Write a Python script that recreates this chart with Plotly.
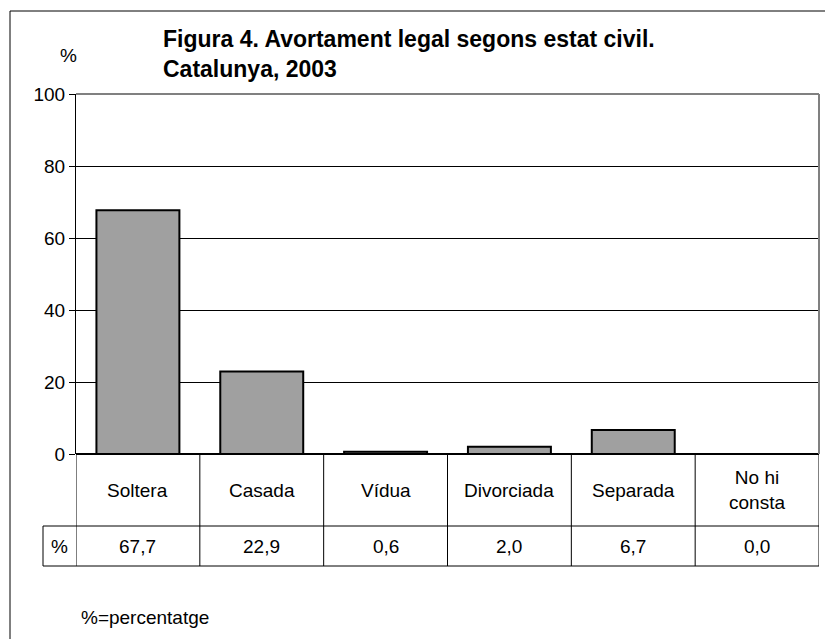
import plotly.graph_objects as go

categories = ["Soltera", "Casada", "Vídua", "Divorciada", "Separada", "No hi<br>consta"]
values = [67.7, 22.9, 0.6, 2.0, 6.7, 0.0]
value_labels = ["67,7", "22,9", "0,6", "2,0", "6,7", "0,0"]
y_ticks = [0, 20, 40, 60, 80, 100]

FONT = "Liberation Sans, Arial, sans-serif"
OFF = 8  # page body margin
W, H = 833 - OFF, 639 - OFF
# plot-area edges in page pixels
PL, PR, PT, PB = 76, 819, 94, 454
L, R, T, B = PL - OFF, W - (PR - OFF), PT - OFF, H - (PB - OFF)
pw, ph = W - L - R, H - T - B

def px_x(p):
    return (p - PL) / pw

def px_y(p):
    return (PB - p) / ph

x_idx = list(range(len(categories)))

fig = go.Figure()
fig.add_trace(go.Bar(
    x=x_idx, y=values,
    marker=dict(color="#a0a0a0", line=dict(color="black", width=2)),
    width=0.67,
    hoverinfo="skip",
))

BLACK = dict(color="black", width=1)
shapes = []
# outer frame: left and top edges only (right/bottom fall outside the picture)
shapes.append(dict(type="line", xref="paper", yref="paper",
                   x0=px_x(10), x1=px_x(10), y0=px_y(660), y1=px_y(11), line=BLACK))
shapes.append(dict(type="line", xref="paper", yref="paper",
                   x0=px_x(10), x1=px_x(840), y0=px_y(11), y1=px_y(11), line=BLACK))
# plot-area border (gray) top and right
shapes.append(dict(type="line", xref="paper", yref="paper", x0=0, x1=1, y0=1, y1=1,
                   line=dict(color="#808080", width=2), layer="above"))
shapes.append(dict(type="line", xref="paper", yref="paper", x0=1, x1=1, y0=0, y1=1,
                   line=dict(color="#808080", width=2), layer="above"))
# data table grid
for yy in [526, 566]:
    shapes.append(dict(type="line", xref="paper", yref="paper",
                       x0=px_x(43), x1=1, y0=px_y(yy), y1=px_y(yy), line=BLACK))
for i in range(len(categories) + 1):
    shapes.append(dict(type="line", xref="x", yref="paper",
                       x0=i - 0.5, x1=i - 0.5, y0=px_y(566), y1=0, line=BLACK))
shapes.append(dict(type="line", xref="paper", yref="paper",
                   x0=px_x(43), x1=px_x(43), y0=px_y(566), y1=px_y(526), line=BLACK))

FS = 19
annotations = []
for i, (c, v) in enumerate(zip(categories, value_labels)):
    annotations.append(dict(x=i, xref="x", y=px_y(490), yref="paper", text=c,
                            showarrow=False, font=dict(size=FS, color="black", family=FONT),
                            xanchor="center", yanchor="middle"))
    annotations.append(dict(x=i, xref="x", y=px_y(546), yref="paper", text=v,
                            showarrow=False, font=dict(size=FS, color="black", family=FONT),
                            xanchor="center", yanchor="middle"))
annotations.append(dict(x=px_x(59.5), xref="paper", y=px_y(546), yref="paper", text="%",
                        showarrow=False, font=dict(size=FS, color="black", family=FONT),
                        xanchor="center", yanchor="middle"))
annotations.append(dict(x=px_x(79), xref="paper", y=px_y(617), yref="paper", text="%=percentatge",
                        showarrow=False, font=dict(size=FS, color="black", family=FONT),
                        xanchor="left", yanchor="middle"))
annotations.append(dict(x=px_x(68), xref="paper", y=px_y(56), yref="paper", text="%",
                        showarrow=False, font=dict(size=FS, color="black", family=FONT),
                        xanchor="center", yanchor="middle"))
annotations.append(dict(x=px_x(161), xref="paper", y=px_y(54), yref="paper",
                        text="<b>Figura 4. Avortament legal segons estat civil.<br>Catalunya, 2003</b>",
                        showarrow=False, align="left",
                        font=dict(size=23, color="black", family=FONT),
                        xanchor="left", yanchor="middle"))

fig.update_layout(
    width=W, height=H,
    margin=dict(l=L, r=R, t=T, b=B, pad=0),
    paper_bgcolor="white", plot_bgcolor="white",
    showlegend=False,
    font=dict(family=FONT, size=FS, color="black"),
    xaxis=dict(range=[-0.5, len(categories) - 0.5], showticklabels=False, showgrid=False,
               zeroline=False, showline=False, ticks="", fixedrange=True),
    yaxis=dict(range=[0, 100], tickvals=y_ticks, showgrid=True, gridcolor="black", gridwidth=1,
               zeroline=True, zerolinecolor="black", zerolinewidth=2,
               showline=True, linecolor="black", linewidth=1,
               ticks="outside", ticklen=6, tickcolor="black",
               tickfont=dict(size=FS, family=FONT, color="black"), fixedrange=True),
    shapes=shapes,
    annotations=annotations,
    bargap=0.33,
)

fig.write_html("out.html")
